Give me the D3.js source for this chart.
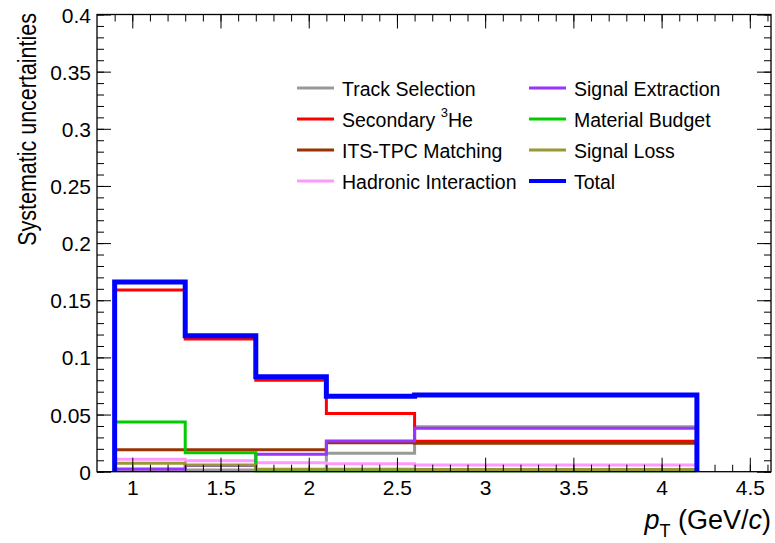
<!DOCTYPE html>
<html><head><meta charset="utf-8">
<script src="https://cdn.jsdelivr.net/npm/d3@7"></script>
<style>body{margin:0;background:#fff}svg{display:block}text{font-family:"Liberation Sans",Arial,sans-serif}</style>
</head><body>
<svg id="c" width="775" height="543"></svg>
<script>
const binEdges = [0.9, 1.3, 1.7, 2.1, 2.6, 4.2];
const trackSelection = [0.002, 0.0015, 0.002, 0.0161, 0.0394];
const secondaryHe = [0.159, 0.116, 0.080, 0.051, 0.0267];
const itsTpc = [0.0192, 0.0192, 0.0192, 0.0254, 0.0248];
const hadronic = [0.0108, 0.0096, 0.0079, 0.0069, 0.0059];
const signalExtraction = [0.0024, 0.0055, 0.0152, 0.0268, 0.0380];
const materialBudget = [0.0435, 0.0166, 0.0008, 0.0008, 0.0008];
const signalLoss = [0.0073, 0.0059, 0.0021, 0.0021, 0.0020];
const total = [0.166, 0.119, 0.083, 0.066, 0.067];
const xTicks = [1, 1.5, 2, 2.5, 3, 3.5, 4, 4.5];
const yTicks = [0, 0.05, 0.1, 0.15, 0.2, 0.25, 0.3, 0.35, 0.4];

const series = [
  {name: "Track Selection", values: trackSelection, color: "#999999", w: 3},
  {name: "Secondary", values: secondaryHe, color: "#ff0000", w: 3, sup: true},
  {name: "ITS-TPC Matching", values: itsTpc, color: "#993300", w: 3},
  {name: "Hadronic Interaction", values: hadronic, color: "#ff99ff", w: 3},
  {name: "Signal Extraction", values: signalExtraction, color: "#9933ff", w: 3},
  {name: "Material Budget", values: materialBudget, color: "#00cc00", w: 3},
  {name: "Signal Loss", values: signalLoss, color: "#999933", w: 3},
  {name: "Total", values: total, color: "#0000ff", w: 5}
];

const L = 97, R = 771, T = 14.5, B = 471.7;
const svg = d3.select("#c");
const x = d3.scaleLinear().domain([0.8, 4.62]).range([L, R]);
const y = d3.scaleLinear().domain([0, 0.4]).range([B, T]);

function histPath(vals) {
  const p = d3.path();
  p.moveTo(x(binEdges[0]), y(0));
  vals.forEach((v, i) => {
    p.lineTo(x(binEdges[i]), y(v));
    p.lineTo(x(binEdges[i + 1]), y(v));
  });
  p.lineTo(x(binEdges[binEdges.length - 1]), y(0));
  return p.toString();
}
svg.append("clipPath").attr("id", "cp").append("rect")
  .attr("x", L).attr("y", T).attr("width", R - L).attr("height", B - T + 2);
series.forEach(s => {
  svg.append("path").attr("d", histPath(s.values))
    .attr("fill", "none").attr("stroke", s.color).attr("stroke-width", s.w)
    .attr("stroke-linejoin", "miter").attr("clip-path", "url(#cp)");
});

svg.append("rect").attr("x", L).attr("y", T).attr("width", R - L).attr("height", B - T)
  .attr("fill", "none").attr("stroke", "#000").attr("stroke-width", 1.3);

const xMinor = d3.range(8, 47).map(d => d / 10).filter(d => x(d) > L + 0.5 && x(d) < R - 0.5);
const yMinor = d3.range(0, 41).map(d => d / 100);
const gx = svg.append("g").attr("transform", `translate(0,${B})`);
gx.call(d3.axisTop(x).tickValues(xMinor).tickSize(7).tickFormat(""));
gx.append("g").call(d3.axisTop(x).tickValues(xTicks).tickSize(14).tickFormat(""));
gx.selectAll(".domain").remove();
const gxl = svg.append("g").attr("transform", `translate(0,${B})`)
  .call(d3.axisBottom(x).tickValues(xTicks).tickSize(0).tickFormat(d3.format("")));
gxl.select(".domain").remove();
gxl.selectAll("text").attr("font-size", 21).attr("font-family", "Liberation Sans, Arial, sans-serif")
  .attr("y", 23.5).attr("dy", null);

const gxt = svg.append("g").attr("transform", `translate(0,${T})`);
gxt.call(d3.axisBottom(x).tickValues(xMinor).tickSize(7).tickFormat(""));
gxt.append("g").call(d3.axisBottom(x).tickValues(xTicks).tickSize(14).tickFormat(""));
gxt.selectAll(".domain").remove();

const gy = svg.append("g").attr("transform", `translate(${L},0)`);
gy.call(d3.axisRight(y).tickValues(yMinor).tickSize(7).tickFormat(""));
gy.append("g").call(d3.axisRight(y).tickValues(yTicks).tickSize(14).tickFormat(""));
gy.selectAll(".domain").remove();
const gyl = svg.append("g").attr("transform", `translate(${L},0)`)
  .call(d3.axisLeft(y).tickValues(yTicks).tickSize(0).tickPadding(6).tickFormat(d3.format("")));
gyl.select(".domain").remove();
gyl.selectAll("text").attr("font-size", 21).attr("font-family", "Liberation Sans, Arial, sans-serif")
  .attr("dy", "0.36em");

const gyr = svg.append("g").attr("transform", `translate(${R},0)`);
gyr.call(d3.axisLeft(y).tickValues(yMinor).tickSize(7).tickFormat(""));
gyr.append("g").call(d3.axisLeft(y).tickValues(yTicks).tickSize(14).tickFormat(""));
gyr.selectAll(".domain").remove();
svg.selectAll(".tick line").attr("stroke", "#000").attr("stroke-width", 1);

svg.append("text").attr("transform", "translate(36,13) rotate(-90) scale(0.86,1)")
  .attr("text-anchor", "end").attr("font-size", 25)
  .text("Systematic uncertainties");
const xt = svg.append("text").attr("x", R).attr("y", 529).attr("text-anchor", "end").attr("font-size", 27);
xt.append("tspan").attr("font-style", "italic").text("p");
xt.append("tspan").attr("font-size", 18).attr("dy", 8).text("T");
xt.append("tspan").attr("dy", -8).text(" (GeV/");
xt.append("tspan").attr("font-style", "italic").text("c");
xt.append("tspan").text(")");

const cols = [297, 529], rows = [88, 119, 150, 181];
series.forEach((s, k) => {
  const col = k < 4 ? 0 : 1, row = k % 4;
  const lx = cols[col], ly = rows[row];
  svg.append("line").attr("x1", lx).attr("x2", lx + 37).attr("y1", ly).attr("y2", ly)
    .attr("stroke", s.color).attr("stroke-width", k === 7 ? 4 : 3);
  const t = svg.append("text").attr("x", lx + 45).attr("y", ly + 8).attr("font-size", 19.5).attr("fill", "#000");
  if (s.sup) {
    t.append("tspan").text(s.name + " ");
    t.append("tspan").attr("font-size", 13).attr("dy", -10).text("3");
    t.append("tspan").attr("dy", 10).text("He");
  } else t.text(s.name);
});
</script>
</body></html>
